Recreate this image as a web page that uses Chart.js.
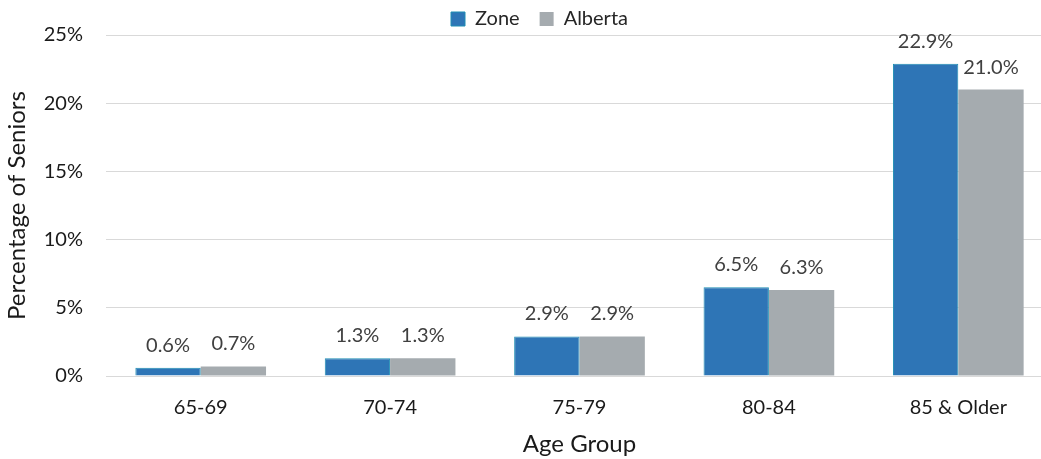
<!DOCTYPE html>
<html>
<head>
<meta charset="utf-8">
<script src="https://cdn.jsdelivr.net/npm/chart.js@4/dist/chart.umd.min.js"></script>
<style>
  html,body{margin:0;padding:0;background:#fff;}
  #wrap{width:1041px;height:459px;}
</style>
</head>
<body>
<div id="wrap"><canvas id="chart"></canvas></div>
<script>
// ================= DATA =================
const ageGroups = ["65-69","70-74","75-79","80-84","85 & Older"];
const zoneValues = [0.6,1.3,2.9,6.5,22.9];
const albertaValues = [0.7,1.3,2.9,6.3,21.0];
const yTicks = [0,5,10,15,20,25];

const FONT = "Lato, 'Open Sans', sans-serif";

// ================= DATA LABELS =================
const barLabels = {
  id:"barLabels",
  afterDatasetsDraw(chart){
    const ctx = chart.ctx;
    ctx.save();
    ctx.font = "20px " + FONT;
    ctx.fillStyle = "#404040";
    ctx.textAlign = "center";
    ctx.textBaseline = "alphabetic";
    chart.data.datasets.forEach((ds,i)=>{
      chart.getDatasetMeta(i).data.forEach((bar,j)=>{
        ctx.fillText(ds.data[j].toFixed(1)+"%", bar.x, bar.y-16);
      });
    });
    ctx.restore();
  }
};

// legend: wide item gap but short box, nudged right;
// plot area runs past the right edge (the original is cropped there)
const layoutFix = {
  id:"layoutFix",
  beforeInit(chart){
    const fit = chart.legend.fit;
    chart.legend.fit = function(){
      fit.call(this);
      this.height = 46;
    };
  },
  afterLayout(chart){
    chart.legend.left += 19;
    chart.legend.right += 19;
    const x = chart.scales.x;
    x.right = 1053;
    x.width = x.right - x.left;
    x.configure();
    chart.chartArea.right = 1053;
    chart.chartArea.width = 1053 - chart.chartArea.left;
    chart.scales.y.configure();
  }
};

new Chart(document.getElementById("chart"),{
  type:"bar",
  data:{
    labels:ageGroups,
    datasets:[
      {label:"Zone",data:zoneValues,backgroundColor:"#2e75b6",borderColor:"#1f8fb4",borderWidth:1},
      {label:"Alberta",data:albertaValues,backgroundColor:"#a5abaf",borderWidth:0}
    ]
  },
  options:{
    responsive:true,
    maintainAspectRatio:false,
    animation:false,
    layout:{padding:{left:0,right:0,top:-21,bottom:0}},
    datasets:{bar:{categoryPercentage:0.69,barPercentage:1}},
    plugins:{
      legend:{
        position:"top",
        labels:{font:{family:FONT,size:20},color:"#262626",boxWidth:14,boxHeight:14,padding:20}
      },
      tooltip:{enabled:false}
    },
    scales:{
      x:{
        afterFit(axis){axis.height = 83;},
        grid:{display:false,drawTicks:false},
        border:{display:true,color:"#d9d9d9",width:1},
        ticks:{font:{family:FONT,size:20},color:"#1a1a1a",padding:20},
        title:{display:true,text:"Age Group",font:{family:FONT,size:24},color:"#1a1a1a",padding:{top:0,bottom:0}}
      },
      y:{
        min:0,max:25,
        afterFit(axis){axis.width = 106;},
        afterBuildTicks(axis){axis.ticks = yTicks.map(v=>({value:v}));},
        grid:{color:"#d9d9d9",drawTicks:false},
        border:{display:false},
        ticks:{font:{family:FONT,size:20},color:"#1a1a1a",padding:23,callback:v=>v+"%"},
        title:{display:true,text:"Percentage of Seniors",font:{family:FONT,size:24},color:"#1a1a1a",padding:{top:3,bottom:0}}
      }
    }
  },
  plugins:[barLabels,layoutFix]
});
</script>
</body>
</html>
